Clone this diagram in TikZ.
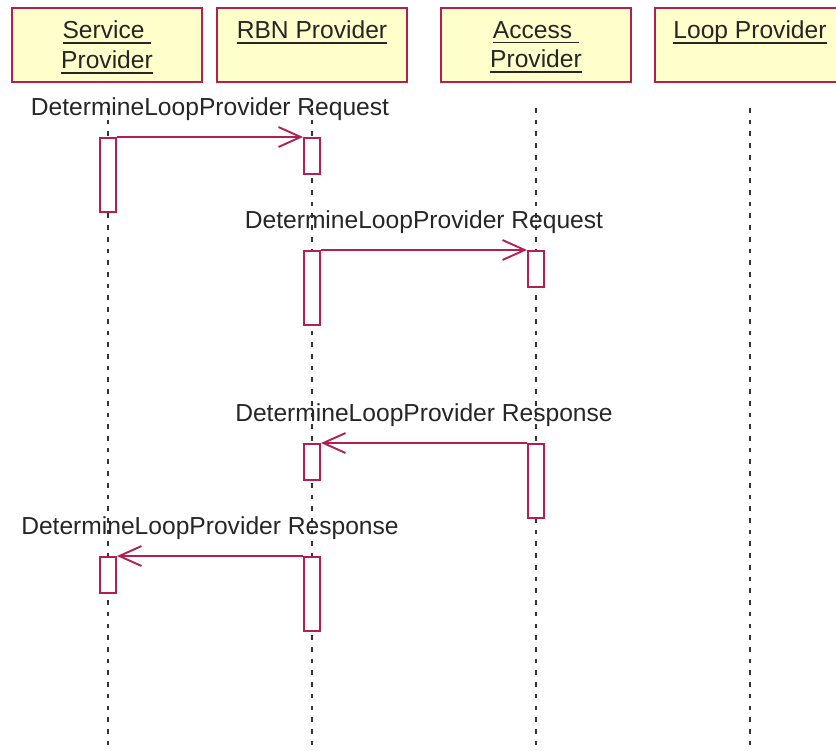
\documentclass[tikz,border=0pt]{standalone}
\usepackage{fontspec}
\setmainfont{Liberation Sans}
\usetikzlibrary{positioning,arrows.meta}
\definecolor{seqred}{RGB}{180,30,80}
\definecolor{seqyellow}{RGB}{255,255,204}
\newcommand{\hdline}[1]{\leavevmode\setbox0=\hbox{#1}\rlap{\rule[-4.5pt]{\wd0}{1.5pt}}\box0}

\begin{document}
\begin{tikzpicture}[x=0.03cm,y=-0.03cm,
  font=\fontsize{21}{25.5}\selectfont,
  text=black!85,
  head/.style={draw=seqred,fill=seqyellow,line width=2pt,minimum width=5.7cm,minimum height=2.22cm},
  headtext/.style={inner sep=0pt,align=center},
  life/.style={draw=black!80,line width=1.6pt,dash pattern=on 4pt off 6pt},
  act/.style={draw=seqred,fill=white,line width=1.6pt,minimum width=0.48cm,anchor=north,inner sep=0pt},
  actlong/.style={act,minimum height=2.22cm},
  actshort/.style={act,minimum height=1.08cm},
  msg/.style={draw=seqred,line width=1.6pt,-{Straight Barb[length=19pt,width=17pt]}},
  lbl/.style={inner sep=0pt,above=13pt,midway}]
\useasboundingbox (0,0) rectangle (836,750);

%Heads
\node[head] (sp) at (107,45) {};
\node[headtext,below=12pt of sp.north] {\hdline{Service\ }\\\hdline{Provider}};
\node[head] (rbn) at (312,45) {};
\node[headtext,below=12pt of rbn.north] {\hdline{RBN Provider}};
\node[head] (ap) at (536,45) {};
\node[headtext,below=12pt of ap.north] {\hdline{Access\ }\\\hdline{Provider}};
\node[head] (lp) at (750,45) {};
\node[headtext,below=12pt of lp.north] {\hdline{Loop Provider}};

%Lifelines
\coordinate (spTop) at (108,108);
\coordinate (spEnd) at (108,750);
\coordinate (rbnTop) at (312,108);
\coordinate (rbnEnd) at (312,750);
\coordinate (apTop) at (536,108);
\coordinate (apEnd) at (536,750);
\coordinate (lpTop) at (750,108);
\coordinate (lpEnd) at (750,750);
\draw[life] (spTop) -- (spEnd);
\draw[life] (rbnTop) -- (rbnEnd);
\draw[life] (apTop) -- (apEnd);
\draw[life] (lpTop) -- (lpEnd);

%Activations
\node[actlong] (sp1) at (108,137) {};
\node[actshort] (rbn1) at (312,137) {};
\node[actlong] (rbn2) at (312,250) {};
\node[actshort] (ap1) at (536,250) {};
\node[actlong] (ap2) at (536,443) {};
\node[actshort] (rbn3) at (312,443) {};
\node[actlong] (rbn4) at (312,556) {};
\node[actshort] (sp2) at (108,556) {};

%Messages
\draw[msg] (sp1.north east) -- node[lbl] {DetermineLoopProvider Request} (rbn1.north west);
\draw[msg] (rbn2.north east) -- node[lbl] {DetermineLoopProvider Request} (ap1.north west);
\draw[msg] (ap2.north west) -- node[lbl] {DetermineLoopProvider Response} (rbn3.north east);
\draw[msg] (rbn4.north west) -- node[lbl] {DetermineLoopProvider Response} (sp2.north east);

\end{tikzpicture}
\end{document}
